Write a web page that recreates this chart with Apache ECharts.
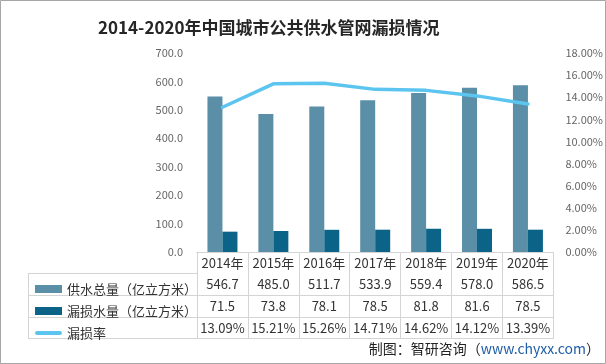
<!DOCTYPE html>
<html><head><meta charset="utf-8">
<script src="https://cdn.jsdelivr.net/npm/echarts@6/dist/echarts.min.js"></script>
<style>html,body{margin:0;padding:0;background:#fff}#c{width:606px;height:364px}</style>
</head><body><div id="c"></div>
<script>
const years = ['2014年','2015年','2016年','2017年','2018年','2019年','2020年'];
const supply = [546.7, 485.0, 511.7, 533.9, 559.4, 578.0, 586.5];
const leakage = [71.5, 73.8, 78.1, 78.5, 81.8, 81.6, 78.5];
const rate = [13.09, 15.21, 15.26, 14.71, 14.62, 14.12, 13.39];
const leftTicks = {min: 0, max: 700, interval: 100};
const rightTicks = {min: 0, max: 18, interval: 2};
const names = ['供水总量（亿立方米）', '漏损水量（亿立方米）', '漏损率'];

const G = {left: 197, right: 49, top: 53, bottom: 112};
const W = 606, H = 364;
const rowH = [21, 43, 65, 86];
const tableLeft = 28;
const gridBottomY = H - G.bottom;
const lineC = '#d4d4d4';
const txt = '#333';
const font = 'Microsoft YaHei, "Noto Sans CJK SC", sans-serif';

const chart = echarts.init(document.getElementById('c'));
const graphics = [
  {type: 'rect', shape: {x: 0.5, y: 0.5, width: W - 1, height: H - 1}, style: {fill: null, stroke: '#a6a6a6', lineWidth: 1}},
  {type: 'line', shape: {x1: tableLeft + 0.5, y1: gridBottomY + rowH[0], x2: tableLeft + 0.5, y2: gridBottomY + rowH[3]}, style: {stroke: lineC, lineWidth: 1}},
  {type: 'text', right: 6, top: 342, style: {rich: {a: {fill: '#222', fontSize: 14, fontFamily: font}, b: {fill: '#1f5ea8', fontSize: 14, fontFamily: font}}, text: '{a|制图：智研咨询（}{b|www.chyxx.com}{a|）}'}}
];
rowH.forEach(o => graphics.push({type: 'line', shape: {x1: tableLeft, y1: gridBottomY + o + 0.5, x2: G.left, y2: gridBottomY + o + 0.5}, style: {stroke: lineC, lineWidth: 1}}));

function rowAxis(offset, arr) {
  return {
    type: 'category', data: years, position: 'bottom', offset: offset, gridIndex: 0,
    axisLine: {show: true, lineStyle: {color: lineC}}, axisTick: {show: false},
    axisLabel: arr ? {show: true, interval: 0, margin: 5, fontSize: 13, color: txt, fontFamily: font, formatter: (v, i) => arr[i]} : {show: false}
  };
}

chart.setOption({
  animation: false,
  title: {text: '2014-2020年中国城市公共供水管网漏损情况', left: 93, top: 14,
    textStyle: {fontSize: 17, fontWeight: 'bold', color: '#262626', fontFamily: font}},
  grid: G,
  legend: {
    orient: 'vertical', left: 30, top: 277, itemWidth: 27, itemHeight: 8, itemGap: 8,
    textStyle: {fontSize: 13, color: txt, fontFamily: font, lineHeight: 14},
    data: [{name: names[0], icon: 'rect'}, {name: names[1], icon: 'rect'},
      {name: names[2], icon: 'path://M0,0 M27,8 M2,2 L25,2 A2,2 0 0 1 25,6 L2,6 A2,2 0 0 1 2,2 Z'}]
  },
  xAxis: [
    {type: 'category', data: years, position: 'bottom',
      axisLine: {show: true, lineStyle: {color: lineC}},
      axisTick: {show: true, interval: 0, length: rowH[3], lineStyle: {color: lineC}},
      axisLabel: {interval: 0, margin: 5, fontSize: 13, color: txt, fontFamily: font}},
    rowAxis(rowH[0], supply.map(v => v.toFixed(1))),
    rowAxis(rowH[1], leakage.map(v => v.toFixed(1))),
    rowAxis(rowH[2], rate.map(v => v.toFixed(2) + '%')),
    rowAxis(rowH[3], null)
  ],
  yAxis: [
    {type: 'value', min: leftTicks.min, max: leftTicks.max, interval: leftTicks.interval,
      axisLine: {show: false}, axisTick: {show: false}, splitLine: {show: false},
      axisLabel: {margin: 14, fontSize: 11, color: '#666', fontFamily: font, formatter: v => v.toFixed(1)}},
    {type: 'value', min: rightTicks.min, max: rightTicks.max, interval: rightTicks.interval, position: 'right',
      axisLine: {show: false}, axisTick: {show: false}, splitLine: {show: false},
      axisLabel: {margin: 12, fontSize: 11, color: '#666', fontFamily: font, formatter: v => v.toFixed(2) + '%'}}
  ],
  series: [
    {name: names[0], type: 'bar', data: supply, barWidth: 15, barGap: '0%', itemStyle: {color: '#5b8ea7'}},
    {name: names[1], type: 'bar', data: leakage, barWidth: 15, barGap: '0%', itemStyle: {color: '#0b6488'}},
    {name: names[2], type: 'line', yAxisIndex: 1, data: rate, symbol: 'none', lineStyle: {width: 3.5, color: '#5bc5f0', cap: 'round'}, itemStyle: {color: '#5bc5f0'}}
  ],
  graphic: graphics
});
</script></body></html>
